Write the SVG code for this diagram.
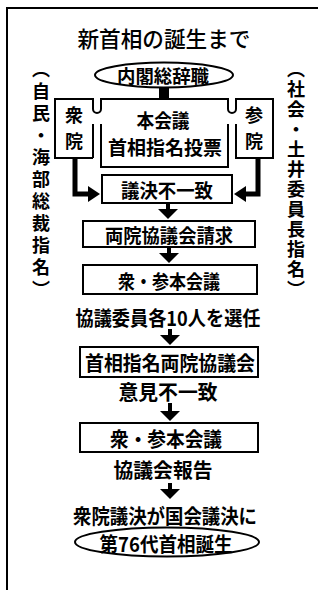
<svg xmlns="http://www.w3.org/2000/svg" width="323" height="590" viewBox="0 0 323 590">
<style>
text{font-family:"Noto Sans CJK JP","Noto Sans CJK SC",sans-serif;fill:#000;dominant-baseline:central;text-anchor:middle}
.b{font-weight:700}
.box{fill:none;stroke:#000;stroke-width:2}
.thin{fill:none;stroke:#000;stroke-width:2}
.arr{fill:none;stroke:#000;stroke-width:4}
.elb{fill:none;stroke:#000;stroke-width:5}
.vt{writing-mode:vertical-rl;text-anchor:start;font-size:18px;font-weight:700}
</style>
<defs>
<marker id="ah" markerUnits="userSpaceOnUse" viewBox="0 0 10 20" markerWidth="10" markerHeight="20" refX="2" refY="10" orient="auto">
<path d="M0,0 L10,10 L0,20 Z" fill="#000"/>
</marker>
<marker id="ah2" markerUnits="userSpaceOnUse" viewBox="0 0 12 16" markerWidth="12" markerHeight="16" refX="2" refY="8" orient="auto">
<path d="M0,0 L12,8 L0,16 Z" fill="#000"/>
</marker>
</defs>
<rect width="323" height="590" fill="#fff"/>
<g id="frame">
<path class="thin" d="M7,590 V8 H318"/>
</g>
<g id="title"><text x="164" y="37" font-size="22" font-weight="500" textLength="173" lengthAdjust="spacingAndGlyphs">新首相の誕生まで</text></g>
<g id="label-left"><text class="vt" x="41" y="60" letter-spacing="4">（自民・海部総裁指名）</text></g>
<g id="label-right"><text class="vt" x="296" y="60" letter-spacing="2">（社会・土井委員長指名）</text></g>
<g id="n-resign">
<ellipse class="box" cx="164" cy="75" rx="69" ry="12.5"/>
<text class="b" x="163" y="75" font-size="18" textLength="92" lengthAdjust="spacingAndGlyphs">内閣総辞職</text>
</g>
<g id="n-plenary">
<path class="box" d="M93,158 H55 V99 H93 V109 A4,4 0 0 0 101,109 V99 H228 V109 A4,4 0 0 0 236,109 V99 H273 V158 H236 V124"/>
<path class="box" d="M93,124 V158"/>
<path class="box" d="M101,124 V167 H228 V124"/>
<text class="b" x="74" y="114" font-size="18">衆</text>
<text class="b" x="74" y="140" font-size="18">院</text>
<text class="b" x="254" y="114" font-size="18">参</text>
<text class="b" x="254" y="140" font-size="18">院</text>
<text class="b" x="163" y="119" font-size="19" textLength="53" lengthAdjust="spacingAndGlyphs">本会議</text>
<text class="b" x="165" y="146" font-size="19" textLength="114" lengthAdjust="spacingAndGlyphs">首相指名投票</text>
</g>
<g id="n-disagree1">
<rect class="box" x="102" y="175" width="130" height="28"/>
<text class="b" x="167" y="189" font-size="19" textLength="92" lengthAdjust="spacingAndGlyphs">議決不一致</text>
</g>
<g id="n-request">
<rect class="box" x="83" y="221" width="172" height="26"/>
<text class="b" x="169" y="234" font-size="19" textLength="128" lengthAdjust="spacingAndGlyphs">両院協議会請求</text>
</g>
<g id="n-plenary2">
<rect class="box" x="83" y="265" width="174" height="29"/>
<text class="b" x="169" y="280" font-size="19" textLength="102" lengthAdjust="spacingAndGlyphs">衆・参本会議</text>
</g>
<g id="t-select"><text class="b" x="168" y="317" font-size="20" textLength="185" lengthAdjust="spacingAndGlyphs">協議委員各10人を選任</text></g>
<g id="n-council">
<rect class="box" x="80" y="347" width="178" height="30"/>
<text class="b" x="170" y="362" font-size="20" textLength="170" lengthAdjust="spacingAndGlyphs">首相指名両院協議会</text>
</g>
<g id="t-disagree2"><text class="b" x="168" y="391" font-size="20" textLength="99" lengthAdjust="spacingAndGlyphs">意見不一致</text></g>
<g id="n-plenary3">
<rect class="box" x="80" y="423" width="178" height="29"/>
<text class="b" x="166" y="438" font-size="20" textLength="112" lengthAdjust="spacingAndGlyphs">衆・参本会議</text>
</g>
<g id="t-report"><text class="b" x="163" y="469" font-size="20" textLength="99" lengthAdjust="spacingAndGlyphs">協議会報告</text></g>
<g id="t-decision"><text class="b" x="165" y="515" font-size="20" textLength="184" lengthAdjust="spacingAndGlyphs">衆院議決が国会議決に</text></g>
<g id="n-birth">
<ellipse class="box" cx="167" cy="542" rx="92" ry="14.5"/>
<text class="b" x="166" y="543" font-size="20" textLength="133" lengthAdjust="spacingAndGlyphs">第76代首相誕生</text>
</g>
<g id="connectors">
<rect x="159" y="87" width="10" height="12" fill="#000"/>
<path class="elb" d="M75,158 V194 H90" marker-end="url(#ah2)"/>
<path class="elb" d="M258,158 V194 H244" marker-end="url(#ah2)"/>
<path class="arr" d="M168,203 V211" marker-end="url(#ah)"/>
<path class="arr" d="M169,247 V255" marker-end="url(#ah)"/>
<path class="arr" d="M170,329 V337" marker-end="url(#ah)"/>
<path class="arr" d="M170,403 V413" marker-end="url(#ah)"/>
<path class="arr" d="M170,483 V491" marker-end="url(#ah)"/>
</g>
</svg>
